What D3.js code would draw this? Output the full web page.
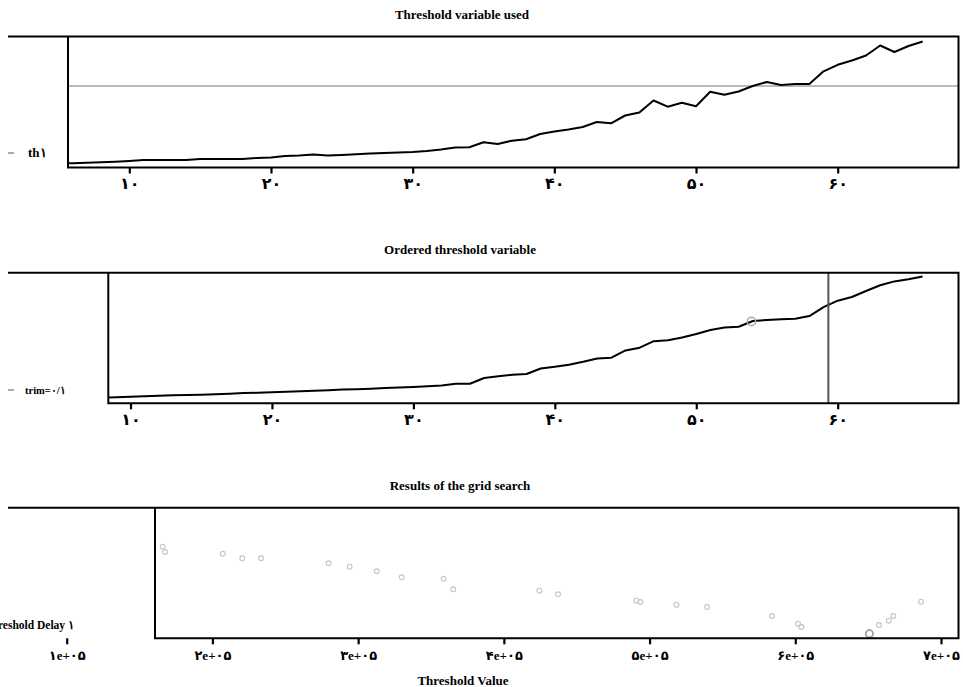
<!DOCTYPE html>
<html><head><meta charset="utf-8">
<script src="https://cdnjs.cloudflare.com/ajax/libs/d3/7.8.5/d3.min.js"></script>
<style>
body{margin:0;background:#fff;}
svg{display:block;font-family:"Liberation Serif","DejaVu Serif",serif;}
</style></head>
<body><svg id="c" width="963" height="687"></svg>
<script>
// ---- data ----
const obsIndex = d3.range(5, 67); // 5..66
const thresholdUsed = [17,19,21,23.5,26,30,35,35,35,35,40,40,40,40,45,47.5,55,57.5,62.5,57.5,60,63.5,67.5,70,72.5,75,80,87.5,97.5,98.5,123.5,115,131.5,138.5,165,177.5,187.5,200,225,218.5,257.5,272.5,332.5,301.5,321.5,303.5,376.5,361.5,377.5,405,425,410,415,415,478.5,511,532.5,557.5,607.5,575,605,627.5];
const chosenThreshold = 405;
const orderedIndex = d3.range(8, 67);
const orderedValues = [30,31.5,33.5,36,38.5,41.5,42.5,44,46.5,49,52,53.5,56,58.5,61,64,66.5,69.5,71.5,74,77,79.5,82.5,86.5,90.5,98.5,99,127.5,136.5,143.5,147.5,175,183.5,194,208.5,225,229,265.5,279,311.5,316,330,347.5,367.5,380,384,412.5,418,421,424,437,482,514,532.5,562.5,591,610.5,621,635];
const chosenOrderPos = 53.9;
const trimUpperPos = 59.34;
const gridThreshold = [165900,167500,207100,220500,233400,279800,294200,312800,329900,358700,365300,424400,437200,490900,493700,518400,539500,584100,601900,604200,650900,657500,664200,667300,686300];
const gridSSR = [91.3,86,84.3,79.7,79.7,74.7,71.3,66.7,60.7,59.3,48.7,47.3,43.7,37.3,36,33.3,31,22,14.3,11,4.3,13,17.3,22,36.3];
const bestIndex = 20;
const xTicksIdx = [10,20,30,40,50,60];
const xTicksGrid = [100000,200000,300000,400000,500000,600000,700000];
const titles = ["Threshold variable used","Ordered threshold variable","Results of the grid search"];
const xLabel = "Threshold Value";
const legendLabels = ["th\u06F1","trim=\u06F0/\u06F1","Threshold Delay \u06F1"];

// ---- helpers ----
const fa = s => String(s).replace(/[0-9]/g, d => "\u06F0\u06F1\u06F2\u06F3\u06F4\u06F5\u06F6\u06F7\u06F8\u06F9"[+d]);
const svg = d3.select("#c");

function frame(g, p){
  g.append("path")
   .attr("d", `M${p.outerLeft},${p.top}H${p.right}V${p.bottom}H${p.left}V${p.top}`)
   .attr("fill","none").attr("stroke","#000").attr("stroke-width",2);
}
function clip(id, p){
  svg.append("clipPath").attr("id",id).append("rect")
    .attr("x",p.left).attr("y",p.top).attr("width",p.right-p.left).attr("height",p.bottom-p.top);
}
function axis(x, p, ticks, fmt, size, pad, family){
  const g = svg.append("g").attr("transform",`translate(0,${p.bottom})`)
    .call(d3.axisBottom(x).tickValues(ticks).tickSize(6).tickPadding(pad).tickFormat(fmt));
  g.select(".domain").remove();
  g.selectAll(".tick line").attr("stroke","#000").attr("stroke-width",2.2);
  g.selectAll(".tick text").attr("font-family",family).attr("font-weight","bold")
   .attr("font-size",size).attr("fill","#000");
  return g;
}
function title(t, x, y){
  svg.append("text").attr("x",x).attr("y",y).attr("text-anchor","middle")
    .attr("font-weight","bold").attr("font-size",13).text(t);
}
function legend(label, y, size, textX, anchor){
  svg.append("line").attr("x1",8).attr("x2",14).attr("y1",y).attr("y2",y)
    .attr("stroke","#aaa").attr("stroke-width",2);
  svg.append("text").attr("x",textX).attr("y",y+4).attr("text-anchor",anchor||"start")
    .attr("font-weight","bold").attr("font-size",size).text(label);
}
const digitFont = "'DejaVu Sans',sans-serif";
const mixFont = "'Liberation Serif','DejaVu Sans',serif";

// ---- panel 1 ----
const p1 = {outerLeft:8, left:68, right:958.5, top:36.5, bottom:167.5};
const x1 = d3.scaleLinear().domain([10,60]).range([129.3,837.7]);
const y1 = d3.scaleLinear().domain([0,655]).range([167,36]);
clip("cp1", p1);
title(titles[0], 462, 19);
svg.append("line").attr("x1",p1.left).attr("x2",p1.right).attr("y1",y1(chosenThreshold)).attr("y2",y1(chosenThreshold))
  .attr("stroke","#bbb").attr("stroke-width",2);
svg.append("path").datum(obsIndex.map((d,i)=>[d,thresholdUsed[i]]))
  .attr("clip-path","url(#cp1)")
  .attr("d", d3.line().x(d=>x1(d[0])).y(d=>y1(d[1])))
  .attr("fill","none").attr("stroke","#000").attr("stroke-width",2).attr("stroke-linejoin","round");
frame(svg, p1);
axis(x1, p1, xTicksIdx, d=>fa(d), 16, 4, digitFont);
legend(legendLabels[0], 153, 13, 28);

// ---- panel 2 ----
const p2 = {outerLeft:8, left:108.3, right:958.5, top:272.7, bottom:403.3};
const x2 = d3.scaleLinear().domain([10,60]).range([130.5,837.7]);
const y2 = d3.scaleLinear().domain([0,655]).range([403.5,272.5]);
clip("cp2", p2);
title(titles[1], 460, 254);
svg.append("path").datum(orderedIndex.map((d,i)=>[d,orderedValues[i]]))
  .attr("clip-path","url(#cp2)")
  .attr("d", d3.line().x(d=>x2(d[0])).y(d=>y2(d[1])))
  .attr("fill","none").attr("stroke","#000").attr("stroke-width",2).attr("stroke-linejoin","round");
svg.append("line").attr("x1",x2(trimUpperPos)).attr("x2",x2(trimUpperPos)).attr("y1",p2.top).attr("y2",p2.bottom)
  .attr("stroke","#555").attr("stroke-width",2);
{
  const interp = d3.scaleLinear().domain(orderedIndex).range(orderedValues);
  svg.append("circle").attr("cx",x2(chosenOrderPos)).attr("cy",y2(interp(chosenOrderPos))).attr("r",4.2)
    .attr("fill","none").attr("stroke","#aaa").attr("stroke-width",1.5);
}
frame(svg, p2);
axis(x2, p2, xTicksIdx, d=>fa(d), 16, 4, digitFont);
legend(legendLabels[1], 390, 10.5, 25);

// ---- panel 3 ----
const p3 = {outerLeft:8, left:155, right:958.5, top:507.7, bottom:638.3};
const x3 = d3.scaleLinear().domain([100000,700000]).range([66.7,941]);
const y3 = d3.scaleLinear().domain([0,130]).range([638,508]);
title(titles[2], 460, 490);
svg.append("g").selectAll("circle").data(gridThreshold.map((d,i)=>[d,gridSSR[i],i])).join("circle")
  .attr("cx",d=>x3(d[0])).attr("cy",d=>y3(d[1]))
  .attr("r",d=>d[2]===bestIndex?3.6:2.4)
  .attr("fill","none").attr("stroke",d=>d[2]===bestIndex?"#aaa":"#c4c4c4")
  .attr("stroke-width",d=>d[2]===bestIndex?2:1.1);
frame(svg, p3);
axis(x3, p3, xTicksGrid, d=>fa(d3.format(".0e")(d).replace("e+","e+0")), 13, 6, mixFont);
svg.append("text").attr("x",463).attr("y",685).attr("text-anchor","middle")
  .attr("font-weight","bold").attr("font-size",13).text(xLabel);
svg.append("text").attr("x",74).attr("y",629).attr("text-anchor","end")
  .attr("font-weight","bold").attr("font-size",11.5).text(legendLabels[2]);
</script></body></html>
